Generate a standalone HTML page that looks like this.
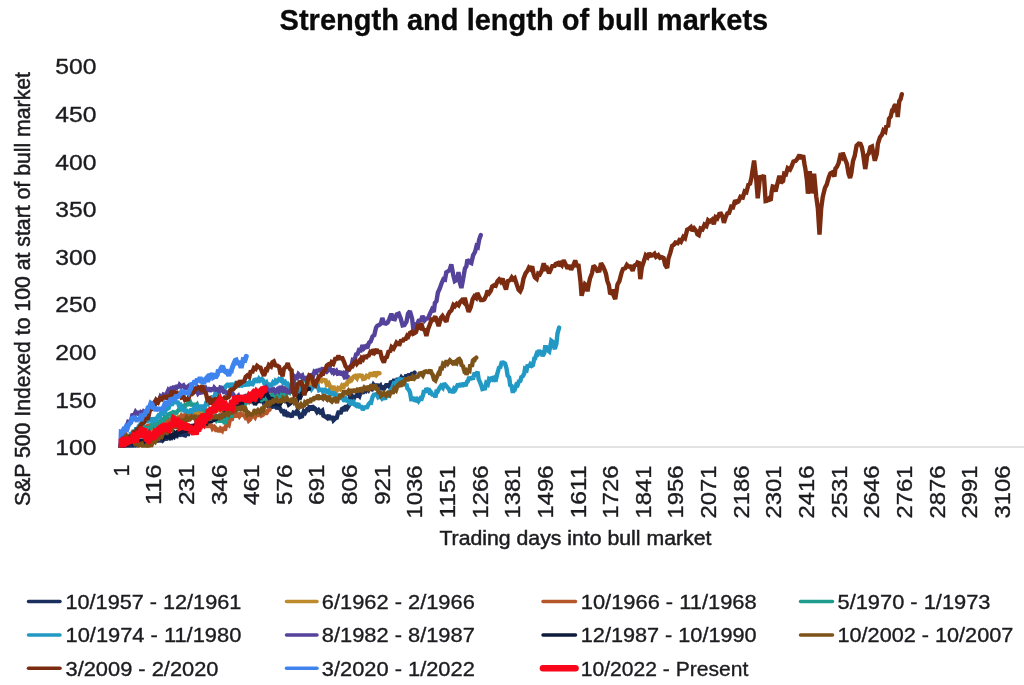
<!DOCTYPE html>
<html lang="en">
<head>
<meta charset="utf-8">
<title>Strength and length of bull markets</title>
<style>
html,body{margin:0;padding:0;background:#fff;}
body{width:1024px;height:685px;overflow:hidden;}
svg{display:block;}
text{font-family:"Liberation Sans",Arial,Helvetica,sans-serif;fill:#1c1c20;stroke:#1c1c20;stroke-width:0.35px;}
.t{font-weight:bold;fill:#0a0a0a;stroke:#0a0a0a;stroke-width:0.3px;}
.a{stroke-width:0.5px;}
.s{fill:none;stroke-linejoin:miter;stroke-miterlimit:2;stroke-linecap:round;}
</style>
</head>
<body>
<svg width="1024" height="685" viewBox="0 0 1024 685">
<rect width="1024" height="685" fill="#ffffff"/>
<text class="t" x="279.6" y="29.6" font-size="29" textLength="488.6" lengthAdjust="spacingAndGlyphs">Strength and length of bull markets</text>
<line x1="118" y1="447" x2="1024" y2="447" stroke="#d9d9d9" stroke-width="1.3"/>
<text x="55.3" y="455.4" font-size="22.6" textLength="41.2" lengthAdjust="spacingAndGlyphs">100</text>
<text x="55.3" y="407.8" font-size="22.6" textLength="41.2" lengthAdjust="spacingAndGlyphs">150</text>
<text x="55.3" y="360.1" font-size="22.6" textLength="41.2" lengthAdjust="spacingAndGlyphs">200</text>
<text x="55.3" y="312.4" font-size="22.6" textLength="41.2" lengthAdjust="spacingAndGlyphs">250</text>
<text x="55.3" y="264.8" font-size="22.6" textLength="41.2" lengthAdjust="spacingAndGlyphs">300</text>
<text x="55.3" y="217.1" font-size="22.6" textLength="41.2" lengthAdjust="spacingAndGlyphs">350</text>
<text x="55.3" y="169.5" font-size="22.6" textLength="41.2" lengthAdjust="spacingAndGlyphs">400</text>
<text x="55.3" y="121.8" font-size="22.6" textLength="41.2" lengthAdjust="spacingAndGlyphs">450</text>
<text x="55.3" y="74.2" font-size="22.6" textLength="41.2" lengthAdjust="spacingAndGlyphs">500</text>
<text class="a" transform="translate(30.4 506.0) rotate(-90)" font-size="22" textLength="434" lengthAdjust="spacingAndGlyphs">S&amp;P 500 Indexed to 100 at start of bull market</text>
<text transform="translate(128.6 476.4) rotate(-90)" font-size="22.4" textLength="12.0" lengthAdjust="spacingAndGlyphs">1</text>
<text transform="translate(161.2 505.1) rotate(-90)" font-size="22.4" textLength="40.8" lengthAdjust="spacingAndGlyphs">116</text>
<text transform="translate(193.9 505.1) rotate(-90)" font-size="22.4" textLength="40.8" lengthAdjust="spacingAndGlyphs">231</text>
<text transform="translate(226.5 505.1) rotate(-90)" font-size="22.4" textLength="40.8" lengthAdjust="spacingAndGlyphs">346</text>
<text transform="translate(259.1 505.1) rotate(-90)" font-size="22.4" textLength="40.8" lengthAdjust="spacingAndGlyphs">461</text>
<text transform="translate(291.8 505.1) rotate(-90)" font-size="22.4" textLength="40.8" lengthAdjust="spacingAndGlyphs">576</text>
<text transform="translate(324.4 505.1) rotate(-90)" font-size="22.4" textLength="40.8" lengthAdjust="spacingAndGlyphs">691</text>
<text transform="translate(357.1 505.1) rotate(-90)" font-size="22.4" textLength="40.8" lengthAdjust="spacingAndGlyphs">806</text>
<text transform="translate(389.7 505.1) rotate(-90)" font-size="22.4" textLength="40.8" lengthAdjust="spacingAndGlyphs">921</text>
<text transform="translate(422.3 518.6) rotate(-90)" font-size="22.4" textLength="53.1" lengthAdjust="spacingAndGlyphs">1036</text>
<text transform="translate(455.0 518.6) rotate(-90)" font-size="22.4" textLength="53.1" lengthAdjust="spacingAndGlyphs">1151</text>
<text transform="translate(487.6 518.6) rotate(-90)" font-size="22.4" textLength="53.1" lengthAdjust="spacingAndGlyphs">1266</text>
<text transform="translate(520.2 518.6) rotate(-90)" font-size="22.4" textLength="53.1" lengthAdjust="spacingAndGlyphs">1381</text>
<text transform="translate(552.9 518.6) rotate(-90)" font-size="22.4" textLength="53.1" lengthAdjust="spacingAndGlyphs">1496</text>
<text transform="translate(585.5 518.6) rotate(-90)" font-size="22.4" textLength="53.1" lengthAdjust="spacingAndGlyphs">1611</text>
<text transform="translate(618.2 518.6) rotate(-90)" font-size="22.4" textLength="53.1" lengthAdjust="spacingAndGlyphs">1726</text>
<text transform="translate(650.8 518.6) rotate(-90)" font-size="22.4" textLength="53.1" lengthAdjust="spacingAndGlyphs">1841</text>
<text transform="translate(683.4 518.6) rotate(-90)" font-size="22.4" textLength="53.1" lengthAdjust="spacingAndGlyphs">1956</text>
<text transform="translate(716.1 518.6) rotate(-90)" font-size="22.4" textLength="53.1" lengthAdjust="spacingAndGlyphs">2071</text>
<text transform="translate(748.7 518.6) rotate(-90)" font-size="22.4" textLength="53.1" lengthAdjust="spacingAndGlyphs">2186</text>
<text transform="translate(781.3 518.6) rotate(-90)" font-size="22.4" textLength="53.1" lengthAdjust="spacingAndGlyphs">2301</text>
<text transform="translate(814.0 518.6) rotate(-90)" font-size="22.4" textLength="53.1" lengthAdjust="spacingAndGlyphs">2416</text>
<text transform="translate(846.6 518.6) rotate(-90)" font-size="22.4" textLength="53.1" lengthAdjust="spacingAndGlyphs">2531</text>
<text transform="translate(879.3 518.6) rotate(-90)" font-size="22.4" textLength="53.1" lengthAdjust="spacingAndGlyphs">2646</text>
<text transform="translate(911.9 518.6) rotate(-90)" font-size="22.4" textLength="53.1" lengthAdjust="spacingAndGlyphs">2761</text>
<text transform="translate(944.5 518.6) rotate(-90)" font-size="22.4" textLength="53.1" lengthAdjust="spacingAndGlyphs">2876</text>
<text transform="translate(977.2 518.6) rotate(-90)" font-size="22.4" textLength="53.1" lengthAdjust="spacingAndGlyphs">2991</text>
<text transform="translate(1009.8 518.6) rotate(-90)" font-size="22.4" textLength="53.1" lengthAdjust="spacingAndGlyphs">3106</text>
<text class="a" x="439.4" y="545.3" font-size="21" textLength="272" lengthAdjust="spacingAndGlyphs">Trading days into bull market</text>
<defs><clipPath id="plot"><rect x="118.6" y="50" width="905.4" height="397.8"/></clipPath></defs>
<g clip-path="url(#plot)">
<path class="s" d="M119.5 446.5 L121.0 445.9 L122.3 447.4 L124.0 447.5 L125.5 445.2 L127.3 446.4 L128.2 444.7 L129.9 447.2 L131.2 443.5 L133.0 445.8 L134.3 443.3 L135.7 445.0 L137.6 442.2 L139.2 441.2 L140.6 442.2 L142.0 445.2 L143.4 441.3 L145.2 445.1 L146.2 441.4 L147.9 444.9 L149.6 444.0 L151.0 440.8 L152.5 443.4 L153.7 439.6 L155.8 439.0 L156.8 441.7 L158.7 438.0 L159.8 442.0 L161.5 437.3 L163.0 440.0 L164.7 438.0 L166.1 440.1 L167.5 436.1 L169.2 437.6 L170.5 435.6 L171.9 437.1 L173.6 433.9 L174.8 435.6 L176.7 436.1 L178.2 432.1 L179.6 436.0 L180.7 434.5 L182.3 433.1 L183.7 435.1 L185.1 435.4 L186.6 432.2 L187.7 435.4 L189.1 431.4 L190.7 429.2 L192.2 431.6 L193.5 428.9 L195.5 425.9 L196.8 426.5 L198.7 421.4 L200.3 423.3 L202.1 418.9 L203.8 418.5 L205.2 420.1 L206.6 416.3 L207.7 419.0 L209.7 417.9 L210.8 420.5 L212.6 417.2 L213.9 421.2 L215.5 418.0 L217.1 418.8 L218.4 420.6 L219.7 416.9 L221.8 418.8 L222.8 415.4 L224.8 417.3 L226.1 411.9 L227.3 414.8 L228.8 410.3 L230.7 410.4 L231.9 406.0 L233.7 407.5 L235.2 402.8 L236.3 402.0 L238.2 401.4 L239.4 403.0 L240.9 398.1 L242.2 399.9 L244.0 395.9 L245.4 398.8 L246.7 395.0 L248.3 397.2 L249.8 395.4 L251.3 397.5 L253.1 397.4 L254.4 398.9 L255.9 394.9 L257.3 399.1 L258.7 397.9 L260.6 400.3 L261.7 398.9 L263.8 403.2 L265.1 402.9 L266.6 401.5 L268.0 405.0 L269.3 403.9 L271.1 407.9 L272.9 404.9 L273.8 407.6 L275.7 405.1 L277.1 408.9 L278.5 406.8 L279.9 408.1 L281.5 411.2 L283.5 411.1 L284.7 415.8 L286.2 413.4 L287.9 416.5 L288.9 414.2 L290.5 415.1 L291.7 417.0 L293.5 412.6 L295.5 413.5 L297.0 410.9 L298.4 412.8 L300.1 417.0 L302.1 416.3 L303.8 411.3 L305.2 412.7 L307.1 409.3 L308.4 409.7 L310.1 405.8 L311.9 409.8 L313.5 407.4 L315.3 408.8 L317.1 412.0 L318.7 410.2 L320.3 412.4 L322.3 410.7 L323.4 415.7 L325.6 416.7 L327.3 418.0 L328.9 415.2 L330.5 419.6 L332.3 416.2 L333.5 420.2 L335.5 418.2 L336.8 417.6 L337.9 413.7 L338.9 411.0 L340.5 413.9 L342.0 409.0 L343.1 408.4 L344.5 410.8 L346.0 405.5 L347.4 407.8 L349.5 404.5 L350.1 396.0 L351.1 395.4 L352.2 398.8 L353.5 399.1 L355.2 395.3 L356.3 397.1 L357.4 393.7 L359.4 395.9 L360.9 391.3 L362.6 393.4 L363.9 389.9 L365.8 390.9 L367.4 387.4 L368.8 389.7 L370.4 387.0 L371.7 388.5 L373.4 384.8 L375.2 387.1 L376.7 384.4 L378.3 387.4 L380.3 385.6 L381.6 389.8 L383.3 386.0 L384.4 388.0 L386.1 385.3 L387.6 385.3 L389.4 386.8 L391.1 381.0 L392.8 383.3 L394.3 379.4 L396.3 382.3 L397.8 378.2 L399.3 381.4 L401.3 377.6 L402.9 379.7 L403.7 376.8 L405.2 379.1 L406.2 374.7 L407.8 378.2 L409.0 373.9 L410.5 376.1 L411.8 373.9 L413.2 373.9 L414.6 372.7" stroke="#1b2f5e" stroke-width="4.4"/>
<path class="s" d="M119.5 446.5 L121.0 444.7 L122.5 444.9 L123.8 441.5 L125.6 443.7 L127.0 439.8 L128.2 442.5 L129.9 442.3 L131.5 437.9 L132.7 439.9 L134.5 437.3 L135.8 438.7 L137.6 434.3 L139.2 437.4 L140.8 432.5 L142.1 432.1 L143.6 434.7 L145.4 431.0 L147.0 433.7 L148.7 429.3 L149.8 431.4 L151.2 427.8 L153.0 430.2 L154.3 426.6 L155.7 429.8 L156.8 426.9 L158.7 429.6 L160.3 428.8 L161.9 425.4 L163.3 423.9 L164.8 427.1 L166.2 422.2 L167.8 425.5 L169.1 422.0 L170.3 420.1 L172.1 421.5 L173.8 421.2 L175.3 420.2 L177.1 418.0 L178.3 417.2 L179.8 418.8 L181.6 416.2 L183.4 418.4 L184.9 414.3 L186.5 417.1 L188.0 415.3 L189.5 416.3 L190.6 413.8 L192.3 415.8 L193.6 413.9 L194.7 413.4 L196.7 412.9 L198.5 415.5 L199.8 411.9 L201.5 414.0 L202.9 410.2 L204.2 413.1 L205.8 412.6 L207.3 410.1 L208.8 409.7 L210.4 411.7 L212.2 409.1 L213.6 411.4 L214.9 407.7 L216.6 410.2 L218.3 410.3 L220.1 405.8 L221.5 409.9 L223.0 408.9 L224.9 404.8 L226.3 405.1 L228.1 406.9 L229.5 406.6 L231.4 404.6 L232.7 403.3 L234.3 406.3 L235.7 404.7 L237.9 401.9 L239.3 403.7 L240.8 401.0 L242.6 403.7 L244.0 400.6 L245.9 403.5 L247.0 400.2 L248.8 401.8 L250.5 398.2 L251.9 400.7 L253.6 398.8 L255.4 398.5 L256.6 400.5 L258.5 397.5 L260.0 399.3 L261.9 399.1 L263.2 396.5 L265.0 397.8 L266.3 394.6 L268.0 397.9 L269.3 396.9 L271.0 393.1 L272.7 396.2 L274.5 392.2 L275.9 396.2 L277.8 391.9 L279.3 394.1 L281.1 391.1 L282.4 392.9 L284.1 389.9 L285.9 392.1 L287.4 389.6 L289.0 391.5 L290.5 389.5 L292.2 390.8 L293.6 391.2 L295.2 387.7 L296.5 391.0 L298.6 389.8 L300.0 386.1 L301.5 388.5 L302.9 386.3 L305.0 387.0 L306.5 384.4 L307.8 387.1 L309.4 385.6 L310.8 383.3 L312.2 384.4 L313.8 381.3 L315.0 383.7 L316.4 379.4 L318.4 382.1 L319.9 378.9 L321.7 380.8 L323.1 378.7 L324.0 381.8 L325.2 378.8 L326.8 384.5 L328.6 383.2 L330.4 387.1 L331.8 388.7 L333.5 386.2 L335.0 391.4 L336.5 391.1 L338.1 388.1 L340.0 389.2 L341.6 386.2 L343.2 388.5 L344.8 383.4 L346.3 385.8 L347.9 380.8 L349.3 383.0 L349.8 378.4 L351.7 379.7 L353.6 376.6 L354.9 375.9 L356.9 378.2 L358.4 374.3 L360.0 377.2 L361.5 374.4 L363.1 379.0 L364.9 378.6 L366.6 375.9 L368.5 376.9 L370.2 374.0 L372.0 374.0 L373.2 376.2 L375.0 371.9 L376.5 374.8 L378.0 373.1 L379.5 373.3" stroke="#bd8a2c" stroke-width="4.4"/>
<path class="s" d="M119.5 446.5 L121.1 445.6 L122.9 445.0 L124.3 439.7 L125.8 442.4 L127.2 441.6 L128.4 437.2 L129.7 436.1 L131.2 437.6 L132.6 434.2 L133.6 437.2 L135.3 432.7 L136.4 433.7 L138.3 429.8 L140.0 432.0 L141.7 428.9 L143.4 431.1 L145.3 426.0 L146.9 428.1 L148.4 424.5 L150.2 426.9 L151.4 424.7 L153.1 427.6 L154.8 423.8 L156.9 426.6 L158.1 425.9 L160.2 422.9 L162.0 424.7 L163.4 422.0 L164.9 421.1 L166.4 422.1 L168.6 419.6 L170.0 421.2 L171.7 418.0 L173.6 420.9 L175.1 417.7 L177.0 419.7 L178.0 416.8 L179.7 419.5 L181.4 416.0 L183.4 418.7 L185.1 415.2 L186.4 416.1 L187.6 417.3 L188.9 414.9 L190.6 417.7 L192.2 415.8 L193.6 416.0 L195.2 418.9 L196.6 417.8 L198.2 420.0 L200.0 418.0 L201.6 421.8 L203.3 419.9 L205.0 423.7 L206.9 426.0 L208.5 426.0 L209.9 424.0 L211.5 425.6 L212.6 428.5 L214.3 426.8 L215.6 428.2 L216.6 431.6 L217.8 427.8 L219.4 432.0 L220.6 429.0 L222.1 430.6 L223.1 427.4 L224.9 430.4 L226.0 425.9 L227.1 423.8 L228.7 425.0 L230.1 418.8 L231.6 420.6 L232.6 416.4 L234.2 415.5 L235.4 414.2 L236.0 417.3 L237.6 413.2 L239.4 416.3 L241.1 413.9 L242.3 414.7 L244.4 415.6 L245.7 417.8 L247.2 417.1 L248.7 420.6 L250.2 419.2 L251.9 415.4 L253.5 415.4 L255.0 417.2 L256.6 413.4 L258.4 416.1 L259.8 412.6 L261.5 415.5 L262.9 414.7 L264.4 410.6 L265.9 414.1 L267.8 410.8 L269.5 409.6" stroke="#b5572b" stroke-width="4.4"/>
<path class="s" d="M119.5 446.5 L121.2 443.9 L123.2 443.9 L124.2 439.2 L125.5 438.6 L127.2 440.0 L128.2 436.5 L129.9 438.5 L131.1 435.3 L132.1 436.4 L133.9 433.3 L134.9 434.5 L136.9 431.1 L138.3 433.7 L139.8 430.7 L141.4 433.3 L143.2 432.3 L144.9 428.7 L146.6 430.2 L148.2 427.0 L149.9 429.8 L151.4 424.9 L153.5 425.1 L154.9 425.9 L156.4 425.2 L158.6 420.6 L159.7 423.7 L161.8 418.1 L163.4 421.4 L164.8 417.0 L166.6 417.6 L168.0 414.6 L170.2 413.7 L171.4 415.0 L173.2 412.2 L174.8 412.4 L176.4 412.8 L178.6 410.1 L180.2 408.5 L181.5 411.0 L182.7 406.3 L184.7 407.2 L185.7 403.6 L187.2 405.6 L188.5 402.3 L190.0 401.8 L191.9 405.9 L193.5 403.4 L194.8 406.7 L196.9 404.5 L198.5 409.0 L200.0 406.0 L201.5 410.4 L203.1 407.1 L205.1 412.2 L206.4 413.5 L208.1 411.0 L210.0 412.4 L211.5 417.2 L213.0 418.2 L215.2 416.3 L216.7 420.1 L218.4 418.1 L220.2 422.1 L221.4 419.2 L223.3 419.8 L224.8 423.6 L226.7 418.5 L228.5 416.7 L229.9 415.5 L231.5 415.7 L233.1 410.1 L235.2 408.4 L236.9 409.6 L238.6 406.0 L240.2 404.0 L241.5 406.3 L243.1 402.8 L245.0 404.1 L246.4 400.6 L248.3 403.1 L249.7 399.6 L251.6 402.7 L253.4 398.1 L254.9 401.6 L256.9 398.3 L258.5 401.4 L259.8 397.7 L261.8 399.8 L263.1 399.0 L265.2 397.2 L266.6 399.2 L268.3 396.7 L270.1 397.8 L271.4 395.6 L273.5 394.1 L275.3 398.0 L276.7 397.2 L278.5 393.1 L280.1 395.7 L281.7 392.8 L283.6 395.4 L285.2 392.4 L286.5 394.1 L288.6 390.4 L289.9 392.2 L291.6 389.0 L293.4 388.2 L294.9 389.6 L296.5 385.0 L298.6 383.1 L299.9 385.6 L301.2 384.0 L302.8 379.9 L303.9 380.1 L305.4 380.5 L306.8 378.5 L308.0 378.0" stroke="#1f9c8d" stroke-width="4.4"/>
<path class="s" d="M119.5 446.5 L121.4 445.7 L123.3 444.3 L124.1 439.5 L125.7 441.3 L126.8 438.5 L128.5 439.8 L129.4 438.3 L130.7 434.3 L132.2 434.5 L133.5 430.3 L135.1 432.5 L136.4 427.5 L137.5 430.4 L138.8 426.2 L140.4 424.6 L141.6 422.6 L143.0 425.0 L144.6 420.4 L145.7 418.2 L147.2 422.3 L149.0 418.8 L150.1 419.4 L151.8 420.9 L152.9 417.8 L154.5 420.8 L155.8 420.5 L157.3 417.4 L158.4 415.6 L159.9 416.4 L160.9 412.9 L162.1 412.0 L163.5 413.6 L165.0 412.3 L166.4 407.7 L167.6 408.7 L168.7 408.1 L170.1 402.7 L171.7 405.5 L173.0 401.3 L174.4 399.5 L176.2 403.3 L177.5 401.2 L178.9 405.4 L180.3 404.9 L181.7 409.6 L182.8 407.9 L184.6 411.9 L185.8 409.1 L187.2 413.7 L188.2 409.9 L189.8 413.2 L191.1 408.8 L192.7 410.9 L194.3 408.0 L196.2 410.7 L197.8 406.7 L199.5 408.8 L201.3 405.3 L202.7 407.8 L204.6 407.7 L206.1 403.3 L207.8 404.1 L209.3 400.0 L211.1 401.9 L212.5 397.5 L214.2 397.7 L215.7 392.4 L217.4 393.2 L219.1 391.7 L221.0 389.6 L222.7 386.7 L224.0 389.8 L225.9 386.0 L227.3 384.7 L228.4 384.7 L230.0 387.1 L231.6 383.3 L233.3 386.3 L235.1 385.5 L236.7 381.7 L237.9 386.0 L239.8 385.4 L241.5 385.6 L242.8 382.6 L244.6 386.2 L246.4 381.8 L247.9 385.9 L249.7 382.2 L251.0 384.0 L252.6 384.3 L254.3 380.0 L255.5 379.7 L257.0 382.3 L258.9 378.9 L260.1 380.5 L261.9 379.0 L263.3 380.4 L265.0 385.0 L266.6 382.9 L268.0 386.1 L270.1 383.5 L271.1 386.7 L272.9 382.9 L274.3 384.7 L275.7 380.8 L277.1 381.8 L278.9 379.3 L280.1 380.2 L281.6 378.0 L283.3 382.9 L285.0 381.9 L286.3 384.5 L287.8 383.7 L289.3 385.5 L290.0 390.7 L292.0 388.5 L293.4 391.6 L295.0 388.0 L296.6 391.4 L298.0 389.6 L299.5 390.8 L301.5 388.4 L302.7 388.9 L304.6 391.1 L305.9 388.6 L307.3 387.1 L308.9 389.7 L310.2 386.2 L311.6 389.1 L313.5 386.5 L314.9 385.9 L316.1 386.0 L317.7 386.1 L319.0 390.3 L320.5 389.6 L322.1 389.8 L323.1 391.9 L324.9 389.8 L326.1 390.2 L327.7 393.4 L328.9 391.5 L330.8 394.9 L332.2 391.7 L333.8 395.7 L334.9 394.0 L336.9 395.8 L337.9 394.3 L339.9 399.2 L341.1 396.7 L342.9 398.2 L344.3 401.4 L345.9 398.6 L347.6 400.8 L349.1 402.4 L350.1 399.8 L351.4 404.6 L353.5 402.2 L354.8 404.8 L356.4 405.8 L358.3 403.5 L359.9 407.9 L361.1 405.6 L362.8 409.9 L364.1 407.8 L365.6 407.2 L367.2 407.1 L368.7 403.9 L370.3 402.2 L371.1 402.5 L372.5 397.2 L373.8 394.9 L374.8 394.6 L376.8 394.0 L378.2 397.1 L380.1 395.8 L382.0 398.5 L383.5 396.8 L385.1 399.3 L386.6 395.1 L387.8 397.4 L388.8 394.5 L390.8 389.6 L392.0 388.5 L393.9 383.3 L395.2 383.6 L396.9 380.9 L398.4 381.4 L400.3 377.9 L402.0 382.7 L403.5 380.8 L405.5 385.6 L406.3 383.9 L407.5 388.5 L408.8 389.8 L410.0 392.4 L411.2 399.3 L412.7 399.3 L414.1 397.2 L415.2 401.5 L417.0 399.3 L418.4 401.2 L420.4 398.2 L421.7 398.7 L423.0 395.1 L424.0 390.2 L425.3 392.8 L426.3 388.2 L427.5 390.2 L429.1 390.1 L430.2 394.4 L431.4 393.0 L433.0 395.6 L433.9 393.7 L435.5 397.3 L436.4 391.5 L437.6 391.6 L439.2 388.4 L440.9 386.0 L442.7 387.8 L444.0 383.3 L445.8 385.5 L447.4 387.4 L449.1 389.2 L450.3 392.4 L451.9 389.1 L452.9 393.2 L454.2 388.7 L455.3 389.6 L456.6 387.1 L458.1 383.8 L459.0 387.0 L460.6 383.3 L462.3 386.6 L463.9 382.8 L465.5 386.1 L467.0 381.8 L467.7 381.4 L469.3 376.9 L470.5 379.8 L471.8 377.0 L472.9 379.5 L474.1 374.9 L475.7 375.5 L473.9 375.6 L475.1 373.0 L476.4 375.2 L477.5 371.5 L478.7 379.4 L479.9 381.8 L481.3 385.4 L482.4 389.1 L483.9 388.7 L485.0 388.4 L486.2 383.1 L487.8 384.4 L489.0 379.4 L489.9 380.1 L491.1 378.4 L492.7 377.9 L494.0 381.4 L495.4 378.1 L496.1 378.7 L497.4 373.4 L499.0 367.7 L500.3 367.1 L501.6 362.8 L503.4 362.6 L505.1 363.6 L506.5 368.4 L507.6 375.5 L509.2 377.6 L510.2 385.1 L511.5 385.9 L512.9 392.7 L513.9 388.9 L514.9 389.1 L516.4 384.6 L517.6 385.1 L518.9 381.3 L520.4 380.8 L521.3 377.2 L522.7 376.4 L524.2 373.6 L525.0 368.9 L526.6 369.9 L527.7 364.6 L529.0 366.9 L530.3 364.4 L531.7 365.9 L532.9 365.2 L534.3 358.6 L535.0 358.5 L536.8 353.5 L537.7 354.0 L538.9 350.1 L540.1 353.0 L541.5 352.5 L542.6 356.0 L544.3 353.0 L545.1 347.3 L546.3 347.3 L547.7 350.2 L549.2 351.5 L550.6 345.0 L551.3 340.8 L552.7 341.9 L554.4 347.5 L555.2 347.4 L556.4 343.8 L557.5 333.3 L559.1 327.6" stroke="#2199c4" stroke-width="4.4"/>
<path class="s" d="M119.5 446.5 L120.8 442.5 L121.9 436.1 L123.7 435.0 L125.0 428.8 L126.5 427.3 L128.2 422.0 L129.4 422.5 L131.2 419.9 L132.3 415.3 L134.3 415.0 L135.6 412.1 L137.2 414.2 L138.5 411.0 L139.4 415.6 L140.9 412.4 L142.6 413.7 L143.8 411.3 L145.0 411.9 L146.9 410.5 L148.5 407.8 L150.2 405.9 L151.4 406.8 L153.3 403.8 L154.6 402.0 L155.8 404.3 L157.6 398.6 L159.2 400.8 L160.5 396.8 L161.8 398.2 L163.5 394.6 L164.7 395.1 L166.4 394.4 L168.3 390.2 L169.7 391.9 L171.0 388.8 L172.4 389.6 L173.9 386.1 L175.8 389.7 L176.9 385.4 L178.7 387.9 L179.7 385.0 L181.4 386.6 L183.5 385.3 L185.2 388.2 L186.9 387.5 L188.5 386.1 L190.0 389.4 L191.5 390.2 L193.1 388.4 L194.8 391.7 L196.9 390.0 L198.1 393.4 L200.1 391.3 L201.9 393.5 L203.5 388.9 L205.2 387.8 L206.6 391.6 L208.1 387.6 L209.9 391.3 L211.7 388.1 L213.0 390.7 L214.3 387.7 L216.0 389.6 L217.4 389.3 L219.2 391.3 L220.4 387.7 L221.8 388.2 L223.7 392.0 L225.3 392.0 L226.8 393.4 L228.7 392.2 L230.2 394.9 L232.0 392.9 L233.3 394.4 L235.0 397.9 L236.4 397.6 L238.3 395.8 L239.6 398.9 L240.9 395.6 L242.3 400.0 L243.7 396.8 L245.3 396.1 L246.9 398.7 L248.7 399.5 L250.3 396.5 L251.6 398.8 L253.1 396.2 L254.8 395.8 L256.2 393.8 L257.8 396.8 L259.2 392.7 L261.2 394.9 L262.2 390.4 L264.0 392.8 L265.2 388.3 L266.1 387.4 L268.2 390.2 L269.7 392.1 L270.6 388.4 L272.2 390.4 L273.7 389.5 L275.3 391.8 L277.3 389.4 L278.7 391.1 L280.1 387.6 L281.6 387.5 L283.4 392.2 L284.9 388.9 L286.5 389.9 L287.8 393.1 L289.2 390.5 L290.5 392.9 L291.8 385.2 L293.5 383.2 L295.0 376.5 L297.0 377.7 L298.4 374.2 L300.5 376.5 L302.2 375.4 L303.6 379.8 L305.5 376.6 L307.0 380.3 L308.2 377.0 L310.1 375.4 L311.3 375.0 L312.9 376.7 L314.5 371.6 L316.4 372.5 L317.7 369.3 L319.2 371.7 L320.4 368.6 L321.7 370.8 L322.9 367.5 L323.8 371.5 L325.7 370.8 L326.7 371.7 L328.5 369.7 L329.8 368.6 L331.5 371.1 L332.6 368.9 L334.2 372.8 L336.3 370.9 L337.6 373.7 L339.3 373.3 L340.6 371.2 L341.7 375.3 L343.2 373.7 L344.7 377.4 L346.4 377.0 L348.2 374.6 L346.4 377.4 L345.0 377.2 L343.5 376.7 L345.5 376.8 L346.9 370.7 L348.4 367.9 L350.3 366.7 L351.5 365.7 L352.8 359.8 L354.6 360.1 L356.1 354.5 L357.6 353.9 L359.0 349.9 L360.8 350.2 L362.5 345.2 L364.0 348.3 L365.9 346.4 L367.3 348.1 L369.0 342.7 L370.7 341.3 L372.6 336.3 L374.3 335.1 L376.0 327.8 L377.2 325.9 L379.4 324.8 L380.9 323.6 L382.3 317.9 L384.1 323.2 L386.0 323.6 L387.7 322.5 L389.4 318.9 L391.4 313.7 L393.0 318.9 L394.8 319.2 L396.7 314.5 L398.8 313.6 L400.7 318.4 L402.6 325.4 L404.4 325.0 L406.5 321.7 L408.0 313.6 L409.9 311.2 L412.1 318.8 L413.6 331.6 L415.4 324.9 L417.5 323.3 L419.1 319.5 L420.5 321.5 L422.5 315.9 L424.6 320.4 L426.2 318.6 L428.1 318.4 L429.8 314.1 L431.9 309.6 L433.8 312.0 L434.9 303.0 L436.5 301.1 L437.9 292.5 L439.7 288.6 L441.4 283.7 L443.4 279.2 L445.0 279.7 L446.3 272.4 L448.4 271.0 L449.6 270.2 L451.3 264.4 L453.3 275.2 L454.8 281.1 L457.1 279.6 L458.5 272.1 L459.7 282.0 L461.4 288.0 L462.9 280.4 L464.9 268.6 L466.4 266.3 L467.4 259.5 L469.4 262.3 L471.3 263.2 L473.1 255.4 L475.1 251.7 L476.5 246.2 L477.8 247.1 L479.2 239.6 L480.8 235.0" stroke="#55429b" stroke-width="4.4"/>
<path class="s" d="M119.5 446.5 L121.0 445.5 L122.3 444.6 L123.8 445.6 L125.3 442.5 L127.3 445.6 L128.8 442.3 L129.9 441.0 L131.4 442.0 L133.0 443.3 L134.5 441.1 L135.8 441.4 L137.4 443.0 L138.9 440.2 L140.3 443.0 L142.2 439.6 L143.8 442.3 L145.2 442.8 L146.2 443.1 L148.0 440.1 L149.6 442.6 L151.0 439.5 L152.5 442.7 L154.1 439.4 L155.7 441.8 L157.1 437.8 L158.3 437.2 L160.2 437.4 L161.4 436.8 L163.0 438.1 L164.7 435.2 L165.9 438.0 L167.8 434.7 L168.8 435.7 L170.6 437.6 L172.0 435.5 L173.8 436.8 L175.1 433.1 L176.7 434.3 L178.2 430.9 L179.3 433.5 L180.7 430.9 L182.4 431.5 L183.8 430.5 L185.2 430.7 L186.8 427.4 L188.4 429.6 L190.3 430.0 L191.3 426.1 L192.9 425.9 L194.2 427.3 L195.8 424.5 L197.5 426.0 L199.1 422.9 L200.3 425.7 L202.2 422.5 L203.5 424.6 L204.9 421.3 L205.8 424.8 L207.4 420.9 L209.2 420.0 L211.0 422.2 L212.9 417.1 L214.2 419.6 L216.1 418.9 L217.7 415.5 L219.1 418.9 L221.2 414.4 L222.5 416.4 L224.5 412.4 L225.9 413.2 L227.3 409.2 L229.2 409.2 L230.7 409.8 L231.9 406.3 L233.2 407.7 L235.0 404.3 L236.7 406.3 L237.9 403.1 L239.6 403.9 L240.8 400.7 L242.5 402.1 L244.0 397.9 L245.5 400.4 L247.0 397.5 L248.7 396.5 L250.1 394.6 L251.7 399.8 L253.2 399.4 L255.0 404.9 L256.4 400.9 L257.6 402.8 L258.9 397.6 L260.1 399.0 L261.5 394.3 L262.5 397.4 L264.1 391.8 L265.1 392.0 L266.1 392.4 L267.9 395.9 L269.0 397.6 L270.4 399.8 L271.4 397.4 L272.9 403.8 L273.9 404.0 L275.1 403.1 L276.9 404.1 L278.4 402.6 L279.9 404.2 L282.2 400.0 L283.3 400.1 L285.0 401.2 L287.1 399.8 L288.8 404.4 L290.0 403.5 L291.9 401.8 L293.7 399.7 L295.5 400.9 L296.9 401.0 L298.9 396.2 L300.3 397.2 L301.7 393.7 L303.5 391.4 L305.2 392.1 L306.5 389.2 L307.7 389.0 L309.1 388.9" stroke="#0d1b3d" stroke-width="4.4"/>
<path class="s" d="M119.5 446.5 L120.7 444.1 L122.1 440.1 L123.5 440.3 L124.8 439.0 L126.4 435.5 L127.9 437.1 L129.6 437.6 L130.6 439.9 L132.1 438.9 L133.6 443.0 L134.4 441.9 L135.8 445.4 L137.5 442.8 L138.6 445.7 L140.2 444.3 L141.8 443.6 L143.3 447.5 L145.0 446.8 L146.9 445.0 L148.2 447.1 L149.9 444.5 L151.6 444.9 L153.1 440.2 L155.1 441.8 L156.8 438.8 L158.5 438.9 L160.0 436.2 L161.6 436.9 L163.2 432.8 L164.8 432.3 L166.9 432.8 L168.6 428.6 L169.8 428.5 L171.8 429.5 L173.0 424.8 L175.2 426.9 L176.8 427.2 L178.1 422.5 L179.8 424.3 L181.7 420.6 L183.4 420.3 L185.0 420.7 L186.6 417.5 L188.2 419.8 L189.8 419.3 L191.7 416.6 L193.3 417.5 L195.2 416.8 L196.5 421.1 L198.5 418.2 L200.1 420.5 L201.9 417.8 L203.2 420.2 L204.9 416.7 L206.7 420.7 L208.5 416.1 L209.8 420.0 L211.9 415.4 L213.4 418.4 L215.3 415.3 L216.7 418.6 L218.3 415.1 L219.9 418.0 L221.5 417.2 L223.5 414.0 L225.2 415.0 L226.9 412.6 L228.6 414.3 L229.8 410.9 L231.8 413.7 L233.3 409.6 L234.9 412.6 L236.4 408.1 L238.0 408.0 L239.6 407.7 L240.7 410.6 L242.6 405.7 L244.4 409.9 L245.6 409.2 L247.4 414.4 L248.7 413.0 L250.4 414.5 L251.9 414.6 L253.5 413.1 L254.9 409.6 L256.5 412.2 L258.0 410.2 L260.0 412.4 L261.6 409.2 L263.0 410.4 L264.8 405.5 L266.0 405.4 L267.4 403.4 L269.3 405.6 L270.8 400.6 L272.5 403.7 L273.8 398.9 L275.4 402.0 L276.8 399.5 L278.9 402.6 L280.1 399.3 L281.9 402.3 L283.1 398.6 L284.8 400.2 L286.6 397.9 L288.2 400.1 L289.7 400.4 L291.1 402.2 L292.5 398.0 L294.4 402.4 L295.8 401.1 L297.4 406.6 L298.9 407.4 L300.8 404.4 L301.9 406.3 L304.0 405.5 L305.1 402.2 L306.9 403.3 L308.6 399.8 L310.1 402.7 L311.4 398.2 L313.2 400.6 L314.6 396.7 L316.2 399.2 L317.8 395.1 L319.5 398.0 L321.2 397.2 L322.7 398.4 L324.0 394.8 L325.5 398.0 L327.1 399.5 L329.0 396.1 L330.5 400.5 L331.9 401.6 L333.8 399.0 L334.9 398.6 L337.0 402.9 L338.2 397.5 L339.0 398.9 L340.5 394.3 L342.2 396.8 L343.6 392.2 L345.4 392.1 L346.9 393.2 L348.5 390.9 L349.8 392.7 L351.4 389.4 L353.4 392.5 L354.8 389.2 L356.0 391.9 L358.1 388.5 L359.6 391.7 L361.1 387.7 L362.7 389.9 L364.0 387.9 L365.7 390.2 L367.3 386.3 L369.1 389.0 L370.4 388.3 L371.9 384.9 L373.5 387.5 L375.1 384.8 L376.4 389.5 L377.4 387.6 L378.9 393.7 L380.1 391.6 L381.1 395.6 L382.7 394.3 L384.0 393.2 L385.9 395.6 L387.6 393.2 L389.6 394.8 L391.0 391.0 L392.7 393.6 L394.3 388.5 L396.0 390.2 L397.5 385.8 L399.4 383.9 L401.2 386.5 L402.8 380.5 L404.2 382.3 L406.0 378.1 L407.8 380.7 L409.4 376.4 L411.0 379.8 L412.8 376.8 L414.3 378.5 L415.9 376.7 L417.8 376.6 L419.6 373.5 L420.9 373.2 L422.8 375.5 L424.4 371.9 L426.1 371.4 L428.0 372.1 L429.0 372.1 L430.4 370.0 L431.6 373.3 L432.6 374.6 L434.0 379.4 L435.4 380.5 L436.9 376.9 L438.1 374.3 L439.1 375.4 L440.6 368.5 L441.9 368.5 L443.1 363.9 L444.7 365.1 L446.6 360.5 L448.0 363.2 L449.9 360.4 L451.9 362.4 L452.7 360.7 L454.2 364.7 L455.7 362.1 L456.7 363.0 L458.2 359.5 L459.3 359.0 L460.6 361.0 L461.9 366.2 L462.7 365.2 L464.4 371.0 L465.5 370.4 L466.5 374.8 L467.8 370.6 L469.4 371.1 L470.3 364.5 L471.9 366.6 L472.9 360.6 L474.4 359.1 L473.9 361.8 L475.1 358.6 L476.3 357.7" stroke="#7d5219" stroke-width="4.4"/>
<path class="s" d="M119.5 446.5 L120.8 446.0 L122.0 444.4 L123.4 444.6 L125.1 441.7 L126.3 440.6 L128.1 442.2 L129.6 437.3 L131.1 436.0 L132.3 436.3 L133.9 432.1 L135.7 432.4 L136.9 429.4 L138.5 429.0 L140.1 426.3 L142.2 423.5 L143.8 422.5 L145.8 418.5 L148.0 418.2 L149.8 410.4 L152.1 408.8 L153.4 405.9 L154.6 405.8 L156.3 400.2 L158.2 402.2 L160.0 398.2 L161.9 399.2 L163.6 397.5 L164.6 395.6 L165.6 399.0 L167.2 396.9 L168.4 398.0 L169.5 397.0 L171.2 393.5 L172.5 394.7 L173.6 390.8 L174.9 394.2 L176.3 391.3 L177.9 395.5 L179.3 395.4 L180.8 394.3 L181.7 397.5 L183.7 396.8 L185.1 400.1 L186.8 399.3 L188.2 399.3 L190.2 393.2 L191.3 395.6 L193.2 390.1 L194.2 391.2 L196.1 388.2 L197.4 386.7 L199.1 387.5 L200.5 389.1 L202.3 385.4 L204.4 391.9 L206.0 393.5 L207.4 399.7 L209.2 398.6 L210.8 404.4 L212.7 400.4 L214.4 401.5 L215.8 397.9 L217.4 401.1 L218.7 398.1 L219.9 399.7 L221.7 399.2 L223.2 399.3 L224.7 397.5 L226.8 398.0 L228.4 397.0 L230.2 390.4 L231.5 389.5 L233.2 389.4 L235.3 387.1 L236.8 383.6 L238.3 384.5 L239.9 380.5 L241.3 382.9 L242.3 382.1 L244.1 381.2 L245.7 376.9 L247.4 375.4 L249.3 376.8 L250.9 370.5 L252.0 373.0 L253.9 367.9 L255.7 368.9 L257.1 365.9 L258.9 367.3 L260.5 367.6 L262.2 372.0 L264.0 375.7 L265.0 373.2 L266.5 367.7 L267.5 368.8 L268.9 364.9 L271.0 366.4 L272.4 362.2 L273.8 361.4 L275.3 365.3 L277.1 365.6 L279.1 366.9 L280.1 371.8 L281.2 371.2 L282.6 376.3 L283.8 368.9 L285.3 367.2 L286.2 366.8 L287.8 363.0 L288.8 367.0 L290.3 369.5 L291.6 370.3 L292.8 391.8 L293.8 392.2 L295.0 396.9 L296.5 390.4 L297.6 383.0 L299.2 384.8 L300.4 380.9 L301.7 383.3 L302.9 387.0 L304.3 395.5 L305.2 387.9 L306.8 385.0 L308.1 379.1 L309.3 375.5 L310.5 376.2 L311.8 377.3 L312.7 380.7 L314.2 385.2 L315.1 385.7 L316.6 381.3 L317.9 379.3 L319.3 374.8 L320.3 376.7 L321.5 373.9 L323.1 373.9 L324.4 370.3 L325.4 369.8 L326.8 365.6 L328.7 364.1 L330.2 364.6 L329.8 366.3 L331.5 362.4 L333.3 363.9 L335.2 358.9 L337.0 358.7 L338.5 355.7 L340.3 359.3 L341.8 357.0 L344.0 361.8 L345.6 366.5 L347.6 368.8 L349.2 369.5 L351.1 366.1 L352.4 366.3 L354.1 362.8 L355.7 361.4 L356.9 363.7 L358.8 361.4 L359.8 363.5 L361.6 358.1 L363.0 359.3 L364.8 355.3 L365.8 358.5 L367.2 356.0 L368.8 355.5 L370.4 351.8 L372.2 352.8 L373.3 349.3 L374.8 352.1 L376.7 349.2 L378.2 353.3 L380.0 350.6 L381.9 358.5 L383.9 362.5 L385.4 357.7 L386.9 356.9 L388.8 350.7 L390.0 352.2 L391.6 347.0 L393.6 348.6 L395.2 345.5 L396.5 342.7 L398.2 344.2 L399.6 344.3 L401.2 339.6 L402.7 341.8 L404.2 338.0 L405.2 340.0 L407.2 335.7 L408.3 336.6 L410.0 332.9 L411.8 331.9 L413.0 333.9 L414.5 333.1 L416.0 332.1 L417.8 326.4 L419.7 327.6 L421.2 323.2 L423.0 329.2 L424.7 329.9 L426.4 336.0 L428.2 328.7 L430.1 323.9 L431.7 319.6 L433.2 319.9 L435.3 316.4 L436.8 320.6 L438.6 326.2 L440.9 317.9 L442.5 316.0 L444.6 319.4 L446.4 321.7 L447.9 315.3 L449.8 311.7 L451.4 310.5 L453.4 304.9 L454.9 306.2 L456.7 303.8 L458.6 305.3 L460.1 302.1 L461.9 300.2 L463.5 301.9 L464.8 297.8 L466.7 305.5 L468.7 311.8 L470.8 307.0 L472.6 299.4 L474.3 296.4 L476.1 298.0 L477.3 292.9 L478.9 296.2 L480.9 300.0 L482.7 300.1 L484.3 299.3 L486.0 296.0 L487.6 290.6 L489.2 293.0 L490.8 290.7 L492.2 286.4 L494.3 285.1 L495.7 285.6 L497.5 281.2 L499.1 279.4 L500.8 281.7 L502.6 278.7 L504.5 285.4 L506.0 289.5 L507.9 281.1 L510.3 280.0 L511.8 277.4 L513.2 279.3 L514.7 278.1 L516.7 284.3 L518.6 289.7 L520.2 291.3 L521.7 288.1 L523.5 278.7 L525.5 273.4 L527.4 270.9 L528.9 267.6 L530.6 269.2 L532.2 266.4 L533.6 273.9 L534.9 277.5 L536.7 278.9 L538.2 273.6 L539.8 274.3 L541.8 270.6 L543.7 263.4 L545.7 268.8 L547.0 268.0 L549.0 273.3 L550.6 269.8 L552.8 264.9 L554.1 267.2 L555.6 263.9 L557.7 263.1 L558.5 265.9 L560.3 263.5 L561.9 265.3 L563.6 260.3 L565.3 263.6 L567.5 268.5 L569.5 265.2 L571.1 269.7 L573.3 265.6 L575.2 260.5 L576.7 265.5 L578.6 265.7 L580.5 281.6 L581.6 295.8 L583.6 288.2 L584.9 284.2 L586.5 285.6 L587.5 291.4 L588.9 283.5 L590.0 278.5 L592.0 273.2 L593.5 265.6 L595.7 268.0 L597.3 270.9 L599.5 270.6 L601.0 263.2 L603.1 266.6 L604.8 270.5 L606.0 273.9 L607.2 280.5 L608.9 285.2 L610.2 294.3 L611.5 292.8 L612.6 289.3 L613.8 295.8 L615.2 299.1 L616.2 293.1 L617.5 284.5 L619.4 281.1 L621.5 272.9 L623.0 269.0 L625.2 268.3 L626.9 264.9 L628.5 266.5 L630.3 266.5 L632.7 270.7 L634.4 265.6 L636.5 264.6 L637.5 262.5 L639.0 263.1 L640.3 279.1 L641.9 267.0 L643.7 261.7 L645.7 255.3 L647.6 257.2 L649.3 253.1 L650.8 255.6 L652.6 255.4 L654.5 253.8 L656.0 256.7 L658.3 255.1 L660.0 257.8 L661.7 257.1 L663.6 258.1 L665.2 264.8 L667.2 268.0 L668.4 258.7 L670.2 253.1 L672.1 245.9 L673.8 244.8 L675.4 242.6 L677.7 243.2 L679.3 240.3 L681.0 241.7 L683.3 237.0 L685.0 238.3 L687.2 229.6 L688.8 228.9 L690.9 227.1 L692.5 231.0 L694.2 228.5 L696.3 231.0 L697.4 234.3 L698.8 235.1 L700.6 228.6 L702.5 229.4 L704.5 224.7 L706.4 226.0 L708.1 220.3 L709.7 221.7 L712.1 219.7 L713.8 224.1 L715.6 217.3 L717.3 218.4 L719.3 213.9 L721.0 213.6 L722.6 216.7 L723.9 222.9 L725.5 217.6 L727.4 213.4 L729.1 213.0 L731.2 206.6 L733.1 207.1 L735.1 200.4 L736.7 202.4 L738.5 201.5 L740.5 196.8 L742.8 197.5 L744.7 191.4 L746.4 192.2 L748.4 184.7 L750.1 183.6 L751.5 177.5 L752.4 171.2 L754.1 160.5 L756.1 178.1 L757.7 198.3 L758.6 190.2 L760.2 175.5 L761.8 178.5 L763.9 175.1 L765.6 201.0 L767.0 200.7 L768.8 198.7 L770.7 200.6 L771.7 191.5 L772.7 186.5 L774.0 186.9 L775.6 191.4 L777.3 184.3 L779.4 175.7 L780.8 182.9 L781.5 182.2 L783.1 181.1 L784.2 173.8 L785.9 174.4 L787.7 168.1 L790.0 169.6 L791.5 166.5 L793.4 161.6 L795.7 160.9 L797.3 158.8 L799.5 154.8 L800.9 158.9 L803.2 155.4 L804.5 164.4 L805.3 168.3 L806.9 180.0 L807.9 193.7 L809.8 171.2 L811.5 193.2 L813.2 186.6 L814.1 173.7 L816.2 196.2 L817.9 208.8 L819.5 234.7 L821.2 208.1 L822.8 196.7 L825.0 187.8 L826.7 184.6 L828.9 177.0 L830.4 173.3 L832.3 172.4 L834.4 176.4 L835.4 168.7 L836.9 166.9 L838.6 163.1 L840.2 156.2 L841.6 157.4 L842.7 152.8 L844.7 158.2 L846.9 163.9 L848.6 174.0 L850.1 177.9 L851.3 173.4 L853.0 161.0 L854.7 155.9 L856.6 145.6 L858.7 143.6 L860.5 144.0 L861.8 147.1 L863.0 153.2 L865.2 169.0 L866.0 164.6 L867.2 155.5 L868.9 153.2 L870.3 147.2 L872.0 146.4 L872.8 150.6 L874.8 160.7 L876.8 153.8 L877.9 143.8 L880.0 137.2 L882.0 134.6 L883.4 130.3 L885.3 131.7 L886.5 125.4 L888.1 126.9 L889.0 118.8 L890.7 116.5 L892.0 110.8 L892.9 110.9 L894.2 106.3 L895.5 104.6 L896.9 108.4 L897.7 117.1 L899.3 101.1 L900.6 99.1 L901.8 94.2" stroke="#7b2c10" stroke-width="4.4"/>
<path class="s" d="M118.9 445.3 L119.7 441.0 L120.8 432.0 L122.3 432.5 L123.5 429.7 L124.4 430.2 L125.9 427.1 L127.2 428.5 L128.4 424.9 L129.3 423.8 L130.7 422.5 L132.4 418.2 L134.0 417.7 L135.4 418.2 L137.1 421.4 L138.4 418.3 L139.6 419.9 L140.6 416.8 L141.9 417.8 L143.3 413.6 L144.5 415.5 L145.7 411.7 L147.2 411.2 L148.4 406.4 L149.4 407.7 L150.8 403.4 L152.2 404.5 L153.5 409.1 L154.9 406.8 L155.7 411.1 L157.1 407.8 L158.5 410.3 L159.7 407.5 L160.7 409.1 L161.9 408.9 L163.4 407.7 L164.7 404.4 L165.9 405.9 L167.3 401.2 L168.7 403.7 L169.8 401.7 L171.0 397.9 L172.4 400.5 L173.7 397.4 L174.5 400.4 L176.3 395.1 L177.4 396.8 L178.8 396.1 L179.5 394.8 L180.8 393.7 L182.3 389.9 L183.5 394.2 L184.8 391.1 L186.1 394.4 L187.4 391.1 L188.6 392.8 L189.6 390.7 L191.0 387.9 L192.2 382.8 L193.6 384.6 L194.7 380.6 L196.0 382.1 L197.4 378.9 L198.5 381.8 L200.1 377.2 L201.3 380.9 L202.2 380.6 L203.7 383.8 L204.7 380.3 L206.4 378.3 L207.6 381.3 L208.6 379.3 L209.6 374.0 L211.2 376.4 L212.6 373.3 L213.4 377.2 L214.9 376.3 L216.2 376.5 L217.5 374.4 L218.4 369.6 L219.8 372.1 L221.1 367.9 L222.6 366.1 L224.0 370.6 L225.1 371.4 L226.2 369.8 L227.2 371.9 L228.8 375.9 L230.1 371.2 L230.9 373.1 L231.5 369.9 L233.2 365.3 L235.3 360.5 L236.2 360.1 L237.3 362.8 L239.4 362.6 L241.1 367.8 L243.1 359.8 L245.0 360.3 L246.3 356.3" stroke="#3f83ee" stroke-width="5.0"/>
<path class="s" d="M119.3 442.7 L120.1 443.2 L121.1 446.7 L121.9 439.7 L123.1 441.1 L124.8 438.2 L125.6 442.5 L126.8 441.8 L128.0 440.8 L129.8 438.5 L130.8 442.5 L131.9 439.3 L133.5 442.2 L134.4 436.7 L136.0 437.3 L137.0 433.2 L138.1 437.3 L139.6 431.4 L140.6 435.1 L142.0 430.9 L143.7 431.4 L144.5 434.9 L146.1 436.0 L147.1 438.4 L148.2 439.2 L149.6 436.5 L151.2 439.0 L152.4 435.7 L153.6 437.6 L155.0 434.5 L156.1 435.6 L156.9 432.3 L158.3 430.9 L159.7 433.3 L161.0 429.4 L162.0 431.3 L163.3 427.0 L165.0 426.4 L166.2 425.1 L167.0 428.4 L168.3 428.8 L169.9 424.1 L170.8 426.1 L172.1 423.6 L173.6 426.5 L174.6 420.9 L176.0 422.0 L177.2 421.7 L178.4 424.2 L179.9 421.2 L180.8 426.5 L182.5 425.9 L183.2 423.1 L184.9 428.2 L185.8 424.1 L187.5 429.5 L188.7 425.6 L189.9 430.0 L191.0 426.9 L192.4 432.8 L193.6 430.4 L194.9 434.2 L196.2 428.7 L197.4 431.2 L198.3 424.0 L199.9 424.6 L201.2 421.0 L202.6 422.2 L203.5 418.3 L204.7 418.8 L206.1 414.4 L207.5 416.5 L208.8 415.5 L209.8 410.1 L210.9 412.7 L212.6 407.7 L213.5 411.6 L214.8 409.3 L216.2 404.9 L217.6 406.5 L218.4 402.9 L219.6 401.4 L221.1 405.1 L222.2 403.7 L223.9 406.0 L224.7 405.5 L226.3 409.2 L227.7 406.5 L228.7 408.1 L229.9 405.8 L229.9 405.5 L231.6 406.8 L233.1 400.5 L234.5 403.5 L236.1 396.8 L238.1 400.5 L239.6 396.2 L241.0 400.2 L242.7 396.0 L244.2 400.1 L246.0 396.4 L247.4 401.7 L249.0 398.3 L250.4 400.2 L252.0 395.7 L253.3 394.2 L255.0 396.2 L256.5 393.4 L258.4 395.5 L259.8 389.7 L261.2 392.2 L262.7 389.9 L263.9 389.6" stroke="#f8061a" stroke-width="8.0"/>
</g>
<line x1="28.5" y1="601.4" x2="60.0" y2="601.4" stroke="#1b2f5e" stroke-width="3.5" stroke-linecap="round"/>
<text x="65.5" y="608.6" font-size="20.6" textLength="175.8" lengthAdjust="spacingAndGlyphs">10/1957 - 12/1961</text>
<line x1="286.5" y1="601.4" x2="317.0" y2="601.4" stroke="#bd8a2c" stroke-width="3.5" stroke-linecap="round"/>
<text x="321.8" y="608.6" font-size="20.6" textLength="153.0" lengthAdjust="spacingAndGlyphs">6/1962 - 2/1966</text>
<line x1="543.0" y1="601.4" x2="575.5" y2="601.4" stroke="#b5572b" stroke-width="3.5" stroke-linecap="round"/>
<text x="580.8" y="608.6" font-size="20.6" textLength="175.8" lengthAdjust="spacingAndGlyphs">10/1966 - 11/1968</text>
<line x1="800.5" y1="601.4" x2="832.5" y2="601.4" stroke="#1f9c8d" stroke-width="3.5" stroke-linecap="round"/>
<text x="837.5" y="608.6" font-size="20.6" textLength="153.0" lengthAdjust="spacingAndGlyphs">5/1970 - 1/1973</text>
<line x1="28.5" y1="634.9" x2="60.0" y2="634.9" stroke="#2199c4" stroke-width="3.5" stroke-linecap="round"/>
<text x="65.5" y="642.1" font-size="20.6" textLength="175.8" lengthAdjust="spacingAndGlyphs">10/1974 - 11/1980</text>
<line x1="286.5" y1="634.9" x2="317.0" y2="634.9" stroke="#55429b" stroke-width="3.5" stroke-linecap="round"/>
<text x="321.8" y="642.1" font-size="20.6" textLength="153.0" lengthAdjust="spacingAndGlyphs">8/1982 - 8/1987</text>
<line x1="543.0" y1="634.9" x2="575.5" y2="634.9" stroke="#0d1b3d" stroke-width="3.5" stroke-linecap="round"/>
<text x="580.8" y="642.1" font-size="20.6" textLength="175.8" lengthAdjust="spacingAndGlyphs">12/1987 - 10/1990</text>
<line x1="800.5" y1="634.9" x2="832.5" y2="634.9" stroke="#7d5219" stroke-width="3.5" stroke-linecap="round"/>
<text x="837.5" y="642.1" font-size="20.6" textLength="175.8" lengthAdjust="spacingAndGlyphs">10/2002 - 10/2007</text>
<line x1="28.5" y1="668.3" x2="60.0" y2="668.3" stroke="#7b2c10" stroke-width="3.5" stroke-linecap="round"/>
<text x="65.5" y="675.5" font-size="20.6" textLength="153.0" lengthAdjust="spacingAndGlyphs">3/2009 - 2/2020</text>
<line x1="286.5" y1="668.3" x2="317.0" y2="668.3" stroke="#3f83ee" stroke-width="3.5" stroke-linecap="round"/>
<text x="321.8" y="675.5" font-size="20.6" textLength="153.0" lengthAdjust="spacingAndGlyphs">3/2020 - 1/2022</text>
<line x1="543.0" y1="668.3" x2="575.5" y2="668.3" stroke="#f8061a" stroke-width="6.6" stroke-linecap="round"/>
<text x="580.8" y="675.5" font-size="20.6" textLength="167.5" lengthAdjust="spacingAndGlyphs">10/2022 - Present</text>
</svg>
</body>
</html>
